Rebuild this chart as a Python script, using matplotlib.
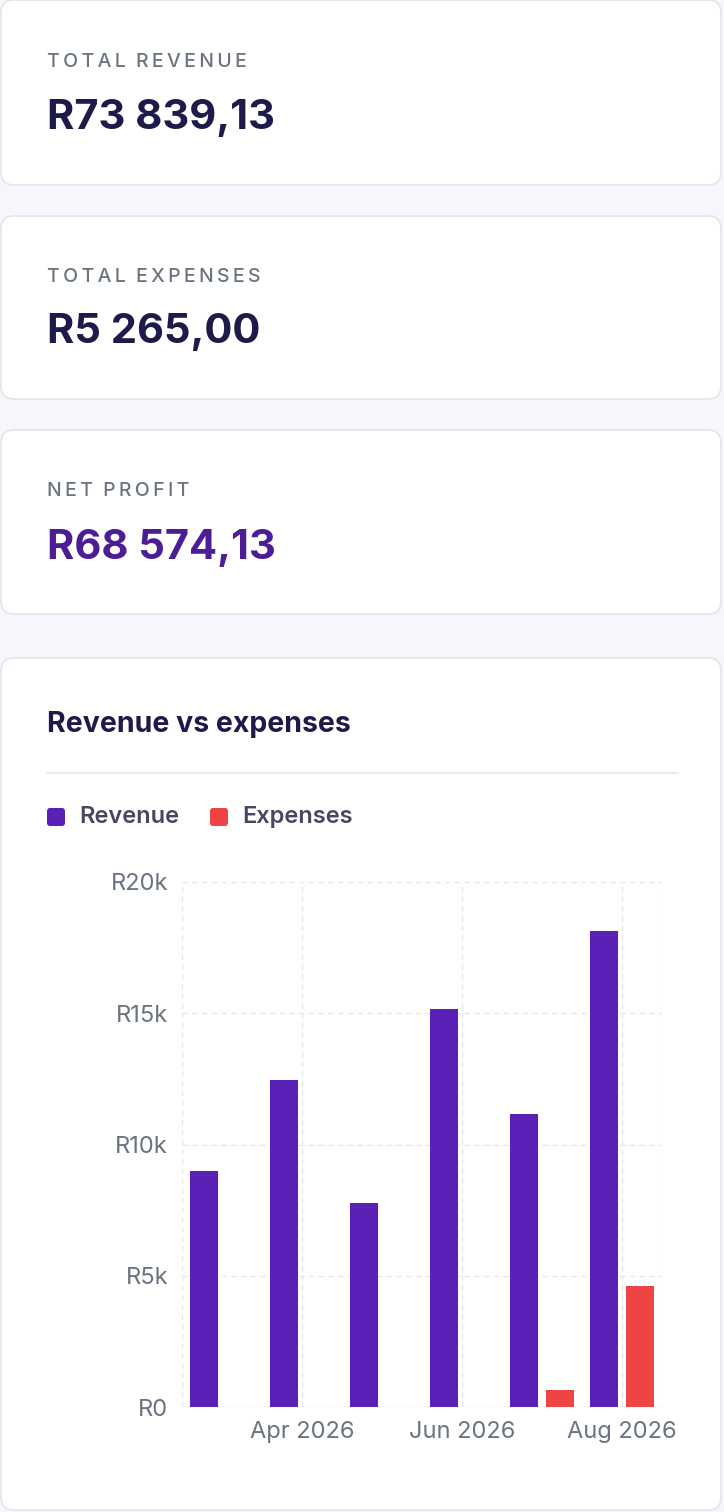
import matplotlib
matplotlib.use("Agg")
import matplotlib.pyplot as plt
from matplotlib.patches import FancyBboxPatch
import numpy as np

months = ["Mar 2026", "Apr 2026", "May 2026", "Jun 2026", "Jul 2026", "Aug 2026"]
revenue = [9000, 12460, 7770, 15160, 11160, 18130]
expenses = [0, 0, 0, 0, 650, 4615]
kpi_labels = ["TOTAL REVENUE", "TOTAL EXPENSES", "NET PROFIT"]
kpi_values = ["R73 839,13", "R5 265,00", "R68 574,13"]
yticks = [0, 5000, 10000, 15000, 20000]
ytick_labels = ["R0", "R5k", "R10k", "R15k", "R20k"]

W, H = 724, 1512
plt.rcParams['font.family'] = ['Inter', 'DejaVu Sans']
fig = plt.figure(figsize=(W/100, H/100), dpi=100)
fig.patch.set_facecolor("#f8f5fc")

def fx(x): return x / W
def fy(y): return 1 - y / H

def card(y0, y1):
    p = FancyBboxPatch((fx(1), fy(y1)), fx(720), (y1 - y0) / H,
                       boxstyle="round,pad=0,rounding_size=0.018",
                       transform=fig.transFigure, facecolor="white",
                       edgecolor="#e5e4ea", linewidth=1.2, mutation_aspect=W/H, zorder=-5)
    fig.patches.append(p)

cards = [(0, 185), (216, 399), (430, 614), (658, 1510)]
for c in cards:
    card(*c)

label_y = [62, 277, 491]
value_y = [118, 332, 548]
for i in range(3):
    fig.text(fx(47), fy(label_y[i]), "\u2009".join(kpi_labels[i]).replace("\u2009 \u2009", "  "),
             fontsize=14, color="#6b7280", va="center", fontweight="medium")
    fig.text(fx(47), fy(value_y[i]), kpi_values[i], fontsize=30, fontweight="bold",
             color="#4c1d95" if i == 2 else "#1e1b4b", va="center")

fig.text(fx(47), fy(724), "Revenue vs expenses", fontsize=20.5, fontweight="bold",
         color="#1e1b4b", va="center")
fig.add_artist(plt.Line2D([fx(47), fx(678)], [fy(773), fy(773)], color="#e5e4ea", lw=1.2))

# legend
for x0, col, lab in [(47, "#5b21b6", "Revenue"), (210, "#ef4444", "Expenses")]:
    fig.patches.append(FancyBboxPatch((fx(x0), fy(826)), fx(18), 18 / H,
                       boxstyle="round,pad=0,rounding_size=0.004", transform=fig.transFigure,
                       facecolor=col, edgecolor="none", mutation_aspect=W/H))
    fig.text(fx(x0 + 32), fy(817), lab, fontsize=17, color="#4b4563", va="center",
             fontweight="semibold")

ax = fig.add_axes([fx(182), fy(1407), fx(662 - 182), (1407 - 882) / H], zorder=5)
x = np.arange(len(months))
off, bw = 0.225, 0.35
ax.bar(x - off, revenue, bw, color="#5b21b6", zorder=3)
ax.bar(x + off, expenses, bw, color="#ef4444", zorder=3)
ax.set_xlim(-0.5, 5.5)
ax.set_ylim(0, 20000)
ax.set_yticks(yticks)
ax.set_yticklabels(ytick_labels)
ax.set_xticks([1, 3, 5])
ax.set_xticklabels([months[1], months[3], months[5]])
ax.tick_params(length=0, labelsize=17, labelcolor="#6b7280", pad=10)
for s in ax.spines.values():
    s.set_visible(False)
ax.grid(axis="y", color="#e5e7eb", ls=(0, (4, 3)), lw=1, zorder=0)
for xv in [-0.5, 1, 3, 5, 5.5]:
    ax.axvline(xv, color="#e5e7eb", ls=(0, (4, 3)), lw=1, zorder=0)
ax.axhline(0, color="#e5e7eb", lw=1, zorder=0)
ax.set_facecolor("none")

fig.savefig("out.png", dpi=100, facecolor=fig.get_facecolor())
